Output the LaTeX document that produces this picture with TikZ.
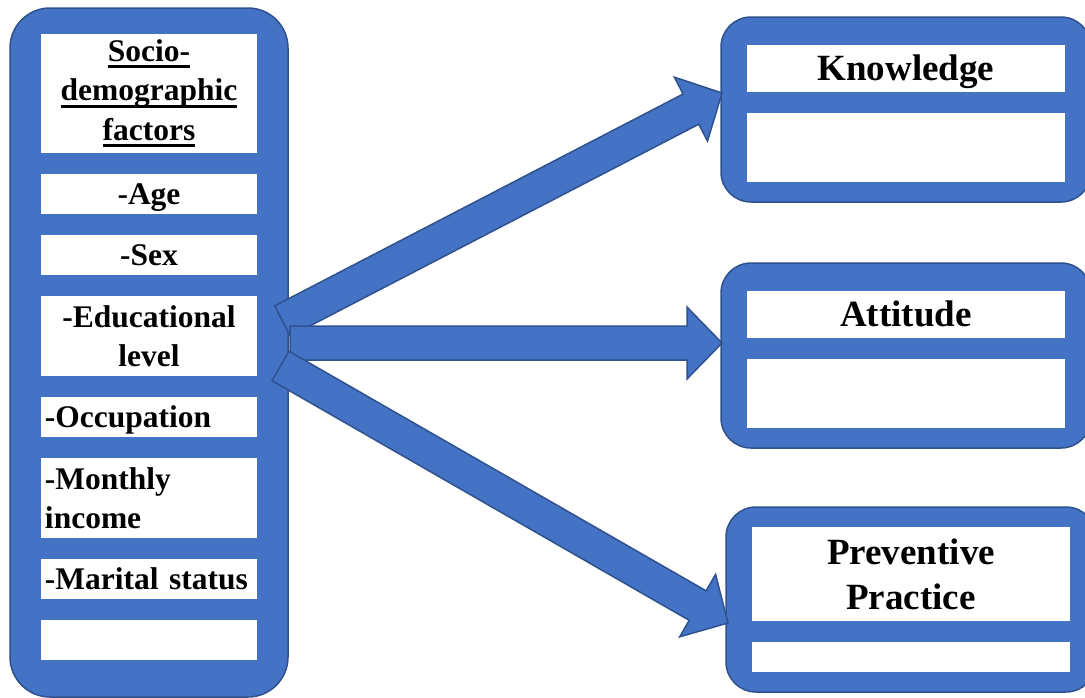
\documentclass[tikz,border=0pt]{standalone}
\usepackage{fontspec}
\setmainfont{Liberation Serif}
\usetikzlibrary{calc}
\definecolor{boxblue}{RGB}{68,114,196}
\definecolor{boxedge}{RGB}{47,82,143}
\newcommand{\ulword}[1]{\leavevmode\setbox0\hbox{#1}\rlap{\rule[-7pt]{\wd0}{3pt}}\box0}
\newcommand{\blockarrow}[2]{%
  \coordinate (#1h) at ($(#2)!35pt!(#1)$);
  \draw[arrowbody] ($(#1)!17pt!90:(#2)$) -- ($(#1h)!17pt!90:(#2)$) -- ($(#1h)!36pt!90:(#2)$) -- (#2)
    -- ($(#1h)!36pt!-90:(#2)$) -- ($(#1h)!17pt!-90:(#2)$) -- ($(#1)!17pt!-90:(#2)$) -- cycle;}
\tikzset{
outerbox/.style={draw=boxedge, fill=boxblue, line width=1.5pt, rounded corners=#1, inner sep=0pt},
outerbox/.default=30pt,
cell/.style={fill=white, inner xsep=4pt, inner ysep=0pt, text width=208pt, font=\bfseries\fontsize{31.5}{39.5}\selectfont},
oneline/.style={text height=25pt, text depth=4.2pt},
titlecell/.style={fill=white, inner sep=0pt, align=center, font=\bfseries\fontsize{37}{45}\selectfont},
onetitle/.style={text height=29pt, text depth=4.5pt},
blankcell/.style={fill=white, inner sep=0pt},
arrowbody/.style={draw=boxedge, fill=boxblue, line width=1.5pt, line join=miter}}

\begin{document}
\begin{tikzpicture}[x=1pt,y=1pt,yscale=-1]
\useasboundingbox (0,0) rectangle (1085,697);

%Shape: Rounded Rect, factors column
\node[outerbox=40pt, minimum width=278pt, minimum height=689pt] (socio) at (149,352.5) {};
% Text Node
\node[cell, align=center, minimum height=119pt] (title) at (149,93.5) {\ulword{Socio-}\\\ulword{demographic}\\\ulword{factors}};
% Text Node
\node[cell, oneline, align=center, minimum height=40pt] (age) at (149,194) {-Age};
% Text Node
\node[cell, oneline, align=center, minimum height=40pt] (sex) at (149,255) {-Sex};
% Text Node
\node[cell, align=center, minimum height=80pt] (edu) at (149,336) {-Educational\\level};
% Text Node
\node[cell, oneline, align=left, minimum height=40pt] (occ) at (149,417) {-Occupation};
% Text Node
\node[cell, align=left, minimum height=80pt] (income) at (149,498) {-Monthly\\income};
% Text Node
\node[cell, oneline, align=left, minimum height=40pt] (marital) at (149,579) {-Marital status};
\node[blankcell, minimum width=216pt, minimum height=40pt] (extra) at (149,640) {};

%Shape: Rounded Rect, knowledge
\node[outerbox, minimum width=370pt, minimum height=185pt] (know) at (906,109.5) {};
\node[titlecell, onetitle, minimum width=318pt, minimum height=47pt] (knowtitle) at (906,68.5) {Knowledge};
\node[blankcell, minimum width=318pt, minimum height=69pt] (knowblank) at (906,147.5) {};

%Shape: Rounded Rect, attitude
\node[outerbox, minimum width=370pt, minimum height=185pt] (att) at (906,355.5) {};
\node[titlecell, onetitle, minimum width=318pt, minimum height=47pt] (atttitle) at (906,314.5) {Attitude};
\node[blankcell, minimum width=318pt, minimum height=69pt] (attblank) at (906,393.5) {};

%Shape: Rounded Rect, practice
\node[outerbox, minimum width=370pt, minimum height=185pt] (prac) at (911,599.5) {};
\node[titlecell, minimum width=318pt, minimum height=94pt] (practitle) at (911,574) {Preventive\\Practice};
\node[blankcell, minimum width=318pt, minimum height=30pt] (pracblank) at (911,657) {};

%Block Arrows
\coordinate (tailK) at (282.5,321);
\coordinate (tipK) at (722,93);
\coordinate (tailA) at (290,343);
\coordinate (tipA) at (722,343);
\coordinate (tailP) at (280.5,366);
\coordinate (tipP) at (728,623);
\blockarrow{tailK}{tipK}
\blockarrow{tailA}{tipA}
\blockarrow{tailP}{tipP}

\end{tikzpicture}
\end{document}
